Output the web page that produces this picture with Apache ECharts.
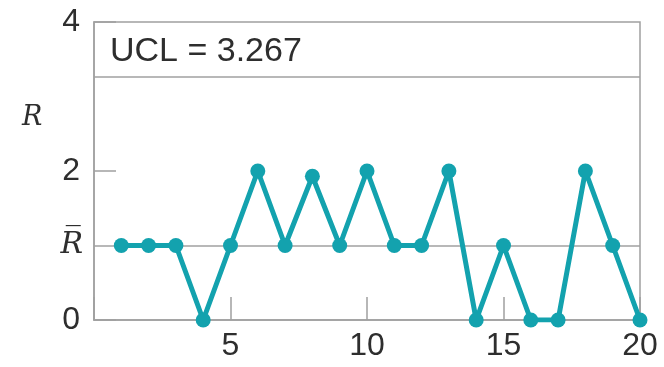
<!DOCTYPE html>
<html>
<head>
<meta charset="utf-8">
<script src="https://cdn.jsdelivr.net/npm/echarts@6/dist/echarts.min.js"></script>
<style>
html,body{margin:0;padding:0;background:#fff;}
#chart{width:664px;height:367px;}
</style>
</head>
<body>
<div id="chart"></div>
<script>
const samples = [1,2,3,4,5,6,7,8,9,10,11,12,13,14,15,16,17,18,19,20];
const ranges  = [1,1,1,0,1,2,1,1.93,1,2,1,1,2,0,1,0,0,2,1,0];
const ucl = 3.267;
const rbar = 1;
const xTickLabels = ['', '5', '10', '15', '20'];
const yTickLabels = ['0', '2', '4'];

const gray = '#a0a0a0';
const teal = '#13a2ae';
const textColor = '#2e2e2e';
const sans = "'Liberation Sans', Arial, sans-serif";
const serif = "'DejaVu Serif', 'Liberation Serif', serif";

const chart = echarts.init(document.getElementById('chart'), null, {renderer:'canvas'});
chart.setOption({
  animation:false,
  backgroundColor:'#fff',
  grid:{left:94,right:24,top:22,bottom:47,show:true,borderColor:gray,borderWidth:1.5,backgroundColor:'transparent'},
  xAxis:{
    type:'value',min:0,max:20,interval:5,
    axisLine:{show:true,lineStyle:{color:gray,width:1.5}},
    axisTick:{show:true,inside:true,length:23,lineStyle:{color:gray,width:1.5}},
    axisLabel:{show:true,margin:10,fontFamily:sans,fontSize:32,color:textColor,
      formatter:(v)=>xTickLabels[Math.round(v/5)]},
    splitLine:{show:false}
  },
  yAxis:{
    type:'value',min:0,max:4,interval:2,
    axisLine:{show:true,lineStyle:{color:gray,width:1.5}},
    axisTick:{show:true,inside:true,length:22,lineStyle:{color:gray,width:1.5}},
    axisLabel:{show:true,margin:14,fontFamily:sans,fontSize:32,color:textColor,
      formatter:(v)=>yTickLabels[Math.round(v/2)]},
    splitLine:{show:false}
  },
  series:[{
    type:'line',
    data: samples.map((s,i)=>[s, ranges[i]]),
    symbol:'circle',symbolSize:15,
    lineStyle:{color:teal,width:5},
    itemStyle:{color:teal},
    z:5,
    markLine:{
      silent:true,symbol:['none','none'],animation:false,
      data:[
        {yAxis:ucl,lineStyle:{color:gray,width:1.5,type:'solid'},
          label:{show:true,position:'insideStartTop',distance:[16,8],formatter:'UCL = ' + ucl,
            fontFamily:sans,fontSize:34,color:textColor}},
        {yAxis:rbar,lineStyle:{color:gray,width:1.5,type:'solid'},
          label:{show:true,position:'start',distance:11,formatter:'R\u0305',
            fontFamily:serif,fontStyle:'italic',fontSize:30,color:textColor}}
      ]
    }
  }],
  graphic:[{type:'text',left:22,top:104,style:{text:'R',font:'italic 27px '+serif,fill:textColor}}]
});
</script>
</body>
</html>
